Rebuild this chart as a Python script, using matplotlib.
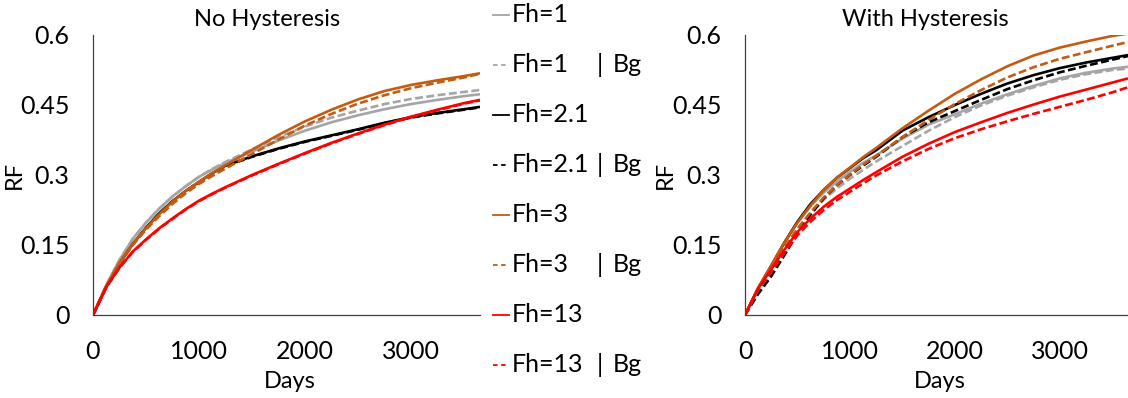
import matplotlib
matplotlib.use("Agg")
import matplotlib.pyplot as plt
from matplotlib.lines import Line2D

plt.rcParams['font.family'] = ['Lato', 'DejaVu Sans']

days = [0, 125, 250, 375, 500, 625, 750, 875, 1000, 1125, 1250, 1500, 1750,
        2000, 2250, 2500, 2750, 3000, 3250, 3500, 3650]

series_labels = ["Fh=1", "Fh=1", "Fh=2.1", "Fh=2.1", "Fh=3", "Fh=3", "Fh=13", "Fh=13"]
series_bg = [False, True, False, True, False, True, False, True]

# No Hysteresis
nh_fh1     = [0, .064, .118, .163, .198, .228, .254, .276, .296, .312, .326, .350, .374, .395, .413, .428, .441, .452, .461, .469, .473]
nh_fh1_bg  = [0, .064, .118, .163, .198, .228, .254, .276, .296, .313, .328, .355, .381, .404, .423, .438, .452, .463, .471, .478, .482]
nh_fh21    = [0, .060, .111, .152, .187, .218, .244, .266, .285, .304, .320, .340, .357, .372, .385, .398, .412, .424, .433, .441, .446]
nh_fh21_bg = [0, .060, .110, .151, .186, .217, .243, .265, .284, .303, .319, .339, .356, .371, .384, .397, .411, .423, .432, .440, .445]
nh_fh3     = [0, .062, .112, .152, .186, .216, .243, .266, .286, .304, .321, .354, .386, .415, .440, .462, .480, .493, .503, .512, .518]
nh_fh3_bg  = [0, .061, .110, .150, .183, .212, .238, .261, .281, .298, .314, .345, .376, .406, .431, .453, .471, .486, .498, .509, .517]
nh_fh13    = [0, .060, .102, .136, .162, .186, .207, .227, .245, .260, .274, .300, .324, .347, .369, .389, .408, .425, .440, .454, .461]
nh_fh13_bg = [0, .059, .101, .135, .161, .185, .206, .226, .244, .259, .273, .299, .323, .346, .368, .388, .407, .424, .439, .453, .460]

# With Hysteresis
wh_fh1     = [0, .058, .106, .155, .198, .233, .262, .286, .307, .326, .342, .378, .408, .430, .453, .473, .491, .507, .519, .528, .532]
wh_fh1_bg  = [0, .054, .099, .144, .185, .218, .247, .271, .292, .311, .329, .362, .395, .424, .449, .470, .488, .504, .516, .525, .528]
wh_fh21    = [0, .057, .105, .155, .200, .238, .268, .294, .315, .336, .353, .395, .424, .450, .474, .496, .514, .529, .541, .551, .557]
wh_fh21_bg = [0, .045, .083, .128, .175, .215, .250, .278, .300, .320, .339, .381, .413, .437, .461, .484, .503, .520, .534, .547, .555]
wh_fh3     = [0, .058, .106, .155, .198, .235, .268, .294, .316, .338, .358, .400, .438, .474, .505, .533, .556, .573, .586, .598, .603]
wh_fh3_bg  = [0, .054, .099, .143, .185, .220, .252, .278, .301, .322, .341, .381, .418, .452, .482, .509, .531, .549, .563, .577, .585]
wh_fh13    = [0, .057, .098, .140, .178, .207, .232, .253, .271, .289, .306, .339, .367, .392, .413, .433, .451, .468, .483, .498, .507]
wh_fh13_bg = [0, .054, .092, .133, .171, .200, .225, .246, .264, .282, .299, .329, .356, .379, .398, .415, .431, .446, .461, .477, .488]

no_hyst = [nh_fh1, nh_fh1_bg, nh_fh21, nh_fh21_bg, nh_fh3, nh_fh3_bg, nh_fh13, nh_fh13_bg]
with_hyst = [wh_fh1, wh_fh1_bg, wh_fh21, wh_fh21_bg, wh_fh3, wh_fh3_bg, wh_fh13, wh_fh13_bg]

colors = ["#A5A5A5", "#A5A5A5", "#000000", "#000000", "#C55A11", "#C55A11", "#FF0000", "#FF0000"]

yticks = [0, 0.15, 0.3, 0.45, 0.6]
ytick_labels = ["0", "0.15", "0.3", "0.45", "0.6"]
xticks = [0, 1000, 2000, 3000]

W, H = 1128, 398
fig = plt.figure(figsize=(W / 100, H / 100), dpi=100)

def fx(px):
    return px / W

def fy(py):
    return 1 - py / H

ax1 = fig.add_axes([fx(93), fy(315), fx(480 - 93), (315 - 35) / H])
ax2 = fig.add_axes([fx(745), fy(315), fx(1128 - 745), (315 - 35) / H])

FS = 18
DASH = (3.0, 1.3)

for ax, data in ((ax1, no_hyst), (ax2, with_hyst)):
    for vals, col, bg in zip(data, colors, series_bg):
        ln, = ax.plot(days, vals, color=col, lw=1.9, solid_capstyle='butt',
                      solid_joinstyle='round')
        if bg:
            ln.set_dashes(DASH)
    ax.set_xlim(0, 3650)
    ax.set_ylim(0, 0.6)
    ax.set_yticks(yticks)
    ax.set_yticklabels(ytick_labels)
    ax.set_xticks(xticks)
    for s in ("top", "right"):
        ax.spines[s].set_visible(False)
    for s in ("left", "bottom"):
        ax.spines[s].set_color("#404040")
        ax.spines[s].set_linewidth(0.9)
    ax.tick_params(axis='y', length=0, pad=17, labelsize=FS, colors="#000000")
    ax.tick_params(axis='x', length=0, pad=18, labelsize=FS, colors="#000000")

fig.text(fx(267), fy(20), "No Hysteresis", ha='center', va='center', fontsize=17)
fig.text(fx(925), fy(20), "With Hysteresis", ha='center', va='center', fontsize=17)
fig.text(fx(290), fy(381), "Days", ha='center', va='center', fontsize=17)
fig.text(fx(940), fy(381), "Days", ha='center', va='center', fontsize=17)
fig.text(fx(14), fy(175), "RF", ha='center', va='center', fontsize=17, rotation=90)
fig.text(fx(665), fy(175), "RF", ha='center', va='center', fontsize=17, rotation=90)

# manual legend
for i, (lab, col, bg) in enumerate(zip(series_labels, colors, series_bg)):
    y = fy(15 + 50 * i)
    ln = Line2D([fx(493), fx(509)], [y, y], transform=fig.transFigure, color=col, lw=1.3)
    if bg:
        ln.set_dashes((2.5, 2.0))
    fig.add_artist(ln)
    fig.text(fx(512), y, lab, ha='left', va='center', fontsize=FS)
    if bg:
        fig.text(fx(597), y, "|", ha='left', va='center', fontsize=FS)
        fig.text(fx(613), y, "Bg", ha='left', va='center', fontsize=FS)

fig.savefig("out.png", dpi=100)
